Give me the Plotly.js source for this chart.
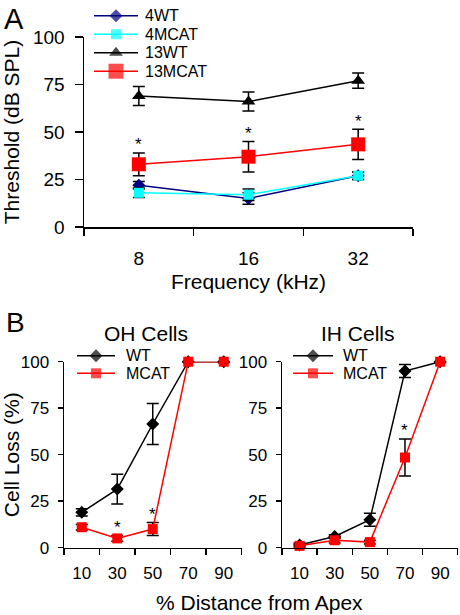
<!DOCTYPE html>
<html>
<head>
<meta charset="utf-8">
<script src="https://cdn.plot.ly/plotly-3.0.1.min.js"></script>
<style>html,body{margin:0;padding:0;background:#fff}#chart{width:460px;height:615px}</style>
</head>
<body>
<div id="chart"></div>
<script>
// ---- Panel A data ----
const freqLabels = ["8", "16", "32"];
const wt4 = [22, 15, 27];
const wt4Err = [2, 3, 2];
const mcat4 = [18, 17, 27];
const mcat4Err = [2.5, 3, 2];
const wt13 = [69, 66, 77];
const wt13Err = [5, 5, 4];
const mcat13 = [33, 37, 43.5];
const mcat13Err = [6, 8, 8];
const sigA = ["8", "16", "32"];

// ---- Panel B data ----
const distLabels = ["10", "30", "50", "70", "90"];
const ohWT = [19, 31.5, 66.5, 100, 100];
const ohWTErr = [2, 8, 11, 0, 0.5];
const ohMCAT = [11, 5, 10, 100, 100];
const ohMCATErr = [1.5, 1.5, 3.5, 0, 0];
const ihWT = [1.5, 6, 15, 95, 100];
const ihWTErr = [1, 1, 3.5, 3.5, 0.5];
const ihMCAT = [1, 4, 3, 48.5, 100];
const ihMCATErr = [1, 1.5, 1, 10, 0];
const sigOH = ["30", "50"];
const sigIH = ["70"];

const FONT = 'Arial, "Liberation Sans", sans-serif';
const W = 460, H = 615;
const px = v => v / W;
const py = v => 1 - v / H;

const styles = {
  '4WT':    {color: '#000080', symbol: 'diamond', size: 10},
  '4MCAT':  {color: '#00FFFF', symbol: 'square', size: 10},
  '13WT':   {color: '#000000', symbol: 'triangle-up', size: 12},
  '13MCAT': {color: '#FF0000', symbol: 'square', size: 14},
  'WT':     {color: '#000000', symbol: 'diamond', size: 10},
  'MCAT':   {color: '#FF0000', symbol: 'square', size: 10}
};

function errs(arr) {
  return {type: 'data', array: arr, visible: true, color: '#000', thickness: 1.5, width: 6};
}
function tr(x, y, e, name, xa, ya) {
  const s = styles[name];
  return {
    x: x, y: y, name: name, type: 'scatter', mode: 'lines+markers', showlegend: false,
    line: {color: s.color, width: 1.5},
    marker: {color: s.color, symbol: s.symbol, size: s.size, line: {width: 0}},
    error_y: errs(e), xaxis: xa, yaxis: ya, cliponaxis: false
  };
}

const data = [
  tr(freqLabels, wt4, wt4Err, '4WT', 'x', 'y'),
  tr(freqLabels, mcat4, mcat4Err, '4MCAT', 'x', 'y'),
  tr(freqLabels, wt13, wt13Err, '13WT', 'x', 'y'),
  tr(freqLabels, mcat13, mcat13Err, '13MCAT', 'x', 'y'),
  tr(distLabels, ohWT, ohWTErr, 'WT', 'x2', 'y2'),
  tr(distLabels, ohMCAT, ohMCATErr, 'MCAT', 'x2', 'y2'),
  tr(distLabels, ihWT, ihWTErr, 'WT', 'x3', 'y3'),
  tr(distLabels, ihMCAT, ihMCATErr, 'MCAT', 'x3', 'y3')
];

function catAxis(domain, anchor, cats, ticklen, fontSize, standoff) {
  return {
    domain: domain, anchor: anchor, type: 'category', categoryorder: 'array', categoryarray: cats,
    range: [-0.5, cats.length - 0.5], tickson: 'boundaries', ticks: 'outside', ticklen: ticklen,
    tickwidth: 1.5, tickcolor: '#000', showline: true, linecolor: '#000', linewidth: 1.5,
    showgrid: false, zeroline: false, tickfont: {family: FONT, size: fontSize, color: '#000'},
    ticklabelstandoff: standoff, fixedrange: true
  };
}
function valAxis(domain, anchor, ticklen, fontSize, standoff) {
  return {
    domain: domain, anchor: anchor, range: [0, 100], tickvals: [0, 25, 50, 75, 100],
    ticks: 'outside', ticklen: ticklen, tickwidth: 1.5, tickcolor: '#000',
    showline: true, linecolor: '#000', linewidth: 1.5, showgrid: false, zeroline: false,
    tickfont: {family: FONT, size: fontSize, color: '#000'}, ticklabelstandoff: standoff, fixedrange: true
  };
}

const xaxis = catAxis([px(84), px(413)], 'y', freqLabels, 7, 19, 14);
xaxis.title = {text: 'Frequency (kHz)', font: {family: FONT, size: 21, color: '#000'}, standoff: 6};
const yaxis = valAxis([py(227), py(37)], 'x', 8, 19, 6);
yaxis.title = {text: 'Threshold (dB SPL)', font: {family: FONT, size: 21, color: '#000'}, standoff: 12};

const xaxis2 = catAxis([px(64), px(241.5)], 'y2', distLabels, 6, 17, 9);
const yaxis2 = valAxis([py(547.7), py(361.7)], 'x2', 5, 17, 5);
yaxis2.title = {text: 'Cell Loss (%)', font: {family: FONT, size: 21, color: '#000'}, standoff: 3};
const xaxis3 = catAxis([px(282), px(457.7)], 'y3', distLabels, 6, 17, 9);
const yaxis3 = valAxis([py(547.7), py(361.7)], 'x3', 5, 17, 5);

// overlay axes in pixel units, used only to place the hand-drawn legends
const xaxis4 = {domain: [0, 1], range: [0, W], visible: false, anchor: 'y4', fixedrange: true};
const yaxis4 = {domain: [0, 1], range: [H, 0], visible: false, anchor: 'x4', fixedrange: true};

function star(xa, ya, cats, vals, errArr, c) {
  const i = cats.indexOf(c);
  return {xref: xa, yref: ya, x: i, y: vals[i] + errArr[i], text: '*', showarrow: false,
    xanchor: 'center', yanchor: 'middle', yshift: 8, font: {family: FONT, size: 17, color: '#000'}};
}

const annotations = [];
sigA.forEach(c => annotations.push(star('x', 'y', freqLabels, mcat13, mcat13Err, c)));
sigOH.forEach(c => annotations.push(star('x2', 'y2', distLabels, ohMCAT, ohMCATErr, c)));
sigIH.forEach(c => annotations.push(star('x3', 'y3', distLabels, ihMCAT, ihMCATErr, c)));

const txt = (t, x, y, size, xa, ya) => ({xref: 'paper', yref: 'paper', x: x, y: y, text: t, showarrow: false,
  xanchor: xa || 'center', yanchor: ya || 'middle', font: {family: FONT, size: size, color: '#000'}});
annotations.push(txt('A', px(2), py(1), 29, 'left', 'top'));
annotations.push(txt('B', px(4), py(305), 28, 'left', 'top'));
annotations.push(txt('OH Cells', px(146), py(333), 21));
annotations.push(txt('IH Cells', px(357.5), py(333), 21));
annotations.push(txt('% Distance from Apex', px(259), py(602), 21));

// hand-drawn legends: [names, line start, line end, text x, first row y, row step, marker sizes]
const legends = [
  {names: ['4WT', '4MCAT', '13WT', '13MCAT'], x0: 94, x1: 138, tx: 143, y0: 15.7, dy: 18.5, sizes: [10, 10, 12, 15]},
  {names: ['WT', 'MCAT'], x0: 77, x1: 115, tx: 124, y0: 355.7, dy: 17.6, sizes: [10, 10]},
  {names: ['WT', 'MCAT'], x0: 293, x1: 333, tx: 341, y0: 355.7, dy: 17.6, sizes: [10, 10]}
];
legends.forEach(L => {
  L.names.forEach((n, k) => {
    const s = styles[n];
    const yy = L.y0 + k * L.dy;
    data.push({
      x: [L.x0, (L.x0 + L.x1) / 2, L.x1], y: [yy, yy, yy], xaxis: 'x4', yaxis: 'y4',
      type: 'scatter', mode: 'lines+markers', showlegend: false, cliponaxis: false, hoverinfo: 'skip',
      line: {color: s.color, width: 1.5},
      marker: {color: s.color, symbol: s.symbol, size: [0, L.sizes[k], 0], line: {width: 0}}
    });
    annotations.push({xref: 'x4', yref: 'y4', x: L.tx, y: yy, text: n, showarrow: false,
      xanchor: 'left', yanchor: 'middle', font: {family: FONT, size: 16, color: '#000'}});
  });
});

const layout = {
  width: W, height: H, margin: {l: 0, r: 0, t: 0, b: 0},
  paper_bgcolor: '#fff', plot_bgcolor: 'rgba(0,0,0,0)', showlegend: false,
  font: {family: FONT, color: '#000'},
  xaxis: xaxis, yaxis: yaxis, xaxis2: xaxis2, yaxis2: yaxis2, xaxis3: xaxis3, yaxis3: yaxis3,
  xaxis4: xaxis4, yaxis4: yaxis4,
  annotations: annotations
};

Plotly.newPlot('chart', data, layout, {staticPlot: true, displayModeBar: false});
</script>
</body>
</html>
